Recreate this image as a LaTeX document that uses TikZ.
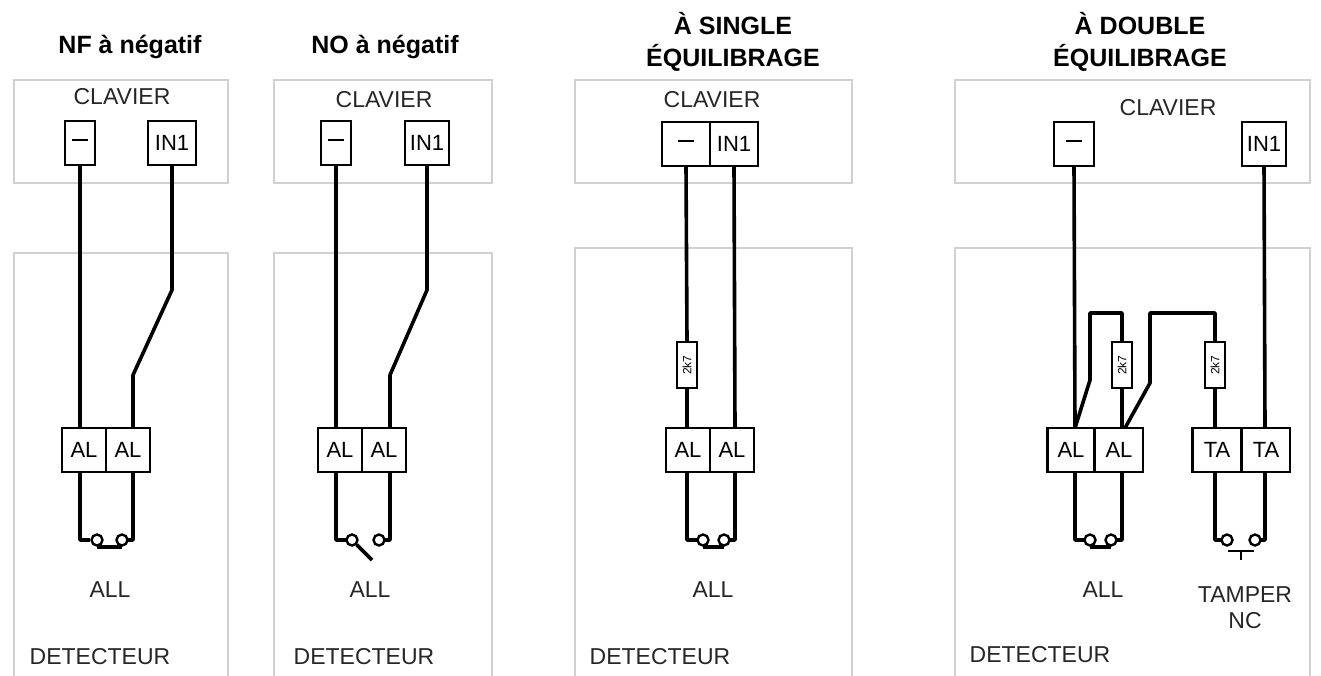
\documentclass[tikz,border=0pt]{standalone}
\usepackage{fontspec}
\setmainfont{Liberation Sans}
\tikzset{
  frame/.style={draw=black!18, line width=2},
  term/.style={draw=black, line width=2.4, minimum width=44, minimum height=44, inner sep=0, font=\fontsize{22}{22}\selectfont},
  res/.style={draw=black, fill=white, line width=2, minimum width=46, minimum height=20, inner sep=0, rotate=90, font=\fontsize{12}{12}\selectfont},
  wire/.style={line width=3.6, line join=round},
  lbl/.style={font=\fontsize{23}{26}\selectfont, text=black!85},
  title/.style={font=\bfseries\fontsize{25}{32}\selectfont, align=center},
  pin/.style={draw=black, fill=white, line width=2.4, circle, minimum size=11, inner sep=0}
}
\newcommand{\minusbar}{\rule[0.3em]{0.75em}{2.4pt}}
\begin{document}
\begin{tikzpicture}[x=1pt, y=-1pt]
  \useasboundingbox (0,0) rectangle (1321,675);
  % frames
  \draw [frame] (14,80) rectangle (228,183);
  \draw [frame] (14,253) rectangle (228,680);
  \draw [frame] (274,80) rectangle (492,183);
  \draw [frame] (274,253) rectangle (492,680);
  \draw [frame] (575,80) rectangle (852,183);
  \draw [frame] (575,248) rectangle (852,680);
  \draw [frame] (955,80) rectangle (1310,183);
  \draw [frame] (955,248) rectangle (1310,680);
  % titles and labels
  \node [title] (t1) at (130,47) {NF à négatif};
  \node [title] (t2) at (385,47) {NO à négatif};
  \node [title] (t3) at (733,42) {À SINGLE\\ÉQUILIBRAGE};
  \node [title] (t4) at (1140,42) {À DOUBLE\\ÉQUILIBRAGE};
  \node [lbl] (c1) at (122,97) {CLAVIER};
  \node [lbl] (c2) at (384,100) {CLAVIER};
  \node [lbl] (c3) at (712,100) {CLAVIER};
  \node [lbl] (c4) at (1168,108) {CLAVIER};
  \node [lbl] (d1) at (100,657) {DETECTEUR};
  \node [lbl] (d2) at (364,657) {DETECTEUR};
  \node [lbl] (d3) at (660,657) {DETECTEUR};
  \node [lbl] (d4) at (1040,655) {DETECTEUR};
  \node [lbl] (a1) at (110,590) {ALL};
  \node [lbl] (a2) at (370,590) {ALL};
  \node [lbl] (a3) at (713,590) {ALL};
  \node [lbl] (a4) at (1103,590) {ALL};
  \node [lbl, align=center] (tp) at (1245,608) {TAMPER\\NC};

  % panel 1
  \node [term, minimum width=30] (m1) at (80,143) {\minusbar};
  \node [term, minimum width=48] (i1) at (172,143) {IN1};
  \node [term] (l1a) at (84,450) {AL};
  \node [term] (l1b) at (128,450) {AL};
  \draw [wire] (m1.south) -- (80,428);
  \draw [wire] (i1.south) -- (172,290) -- (133,375) -- (133,428);
  \draw [wire] (80,472) -- (80,540) -- (90,540);
  \draw [wire] (133,472) -- (133,540) -- (127,540);
  \node [pin] (p1a) at (97,540) {};
  \node [pin] (p1b) at (122,540) {};
  \draw [wire] (p1a.south) -- (p1b.south);

  % panel 2
  \node [term, minimum width=30] (m2) at (336,143) {\minusbar};
  \node [term, minimum width=44] (i2) at (427,143) {IN1};
  \node [term] (l2a) at (340,450) {AL};
  \node [term] (l2b) at (384,450) {AL};
  \draw [wire] (m2.south) -- (336,428);
  \draw [wire] (i2.south) -- (427,290) -- (390,375) -- (390,428);
  \draw [wire] (336,472) -- (336,540) -- (346,540);
  \draw [wire] (390,472) -- (390,540) -- (384,540);
  \node [pin] (p2a) at (352,540) {};
  \node [pin] (p2b) at (379,540) {};
  \coordinate (lev2) at (372,560);
  \draw [wire] (p2a.south east) -- (lev2);

  % panel 3
  \node [term, minimum width=48] (m3) at (686,144) {\minusbar};
  \node [term, minimum width=48] (i3) at (734,144) {IN1};
  \node [term] (l3a) at (688,450) {AL};
  \node [term] (l3b) at (732,450) {AL};
  \node [res] (r3) at (687,365) {2k7};
  \draw [wire] (m3.south) -- (r3.east);
  \draw [wire] (r3.west) -- (687,428);
  \draw [wire] (i3.south) -- (735,428);
  \draw [wire] (687,472) -- (687,540) -- (697,540);
  \draw [wire] (735,472) -- (735,540) -- (729,540);
  \node [pin] (p3a) at (703,540) {};
  \node [pin] (p3b) at (724,540) {};
  \draw [wire] (p3a.south) -- (p3b.south);

  % panel 4
  \node [term, minimum width=40] (m4) at (1074,144) {\minusbar};
  \node [term, minimum width=44] (i4) at (1264,144) {IN1};
  \node [term, minimum width=47] (l4a) at (1071,450) {AL};
  \node [term, minimum width=48] (l4b) at (1119,450) {AL};
  \node [term, minimum width=49] (t4a) at (1217,450) {TA};
  \node [term, minimum width=48] (t4b) at (1266,450) {TA};
  \node [res] (r4a) at (1122,365) {2k7};
  \node [res] (r4b) at (1215,365) {2k7};
  \draw [wire] (m4.south) -- (1075,428);
  \draw [wire] (1075,428) -- (1090,380) -- (1090,313) -- (1122,313) -- (r4a.east);
  \draw [wire] (r4a.west) -- (1122,428);
  \draw [wire] (1125,428) -- (1150,383) -- (1150,313) -- (1215,313) -- (r4b.east);
  \draw [wire] (r4b.west) -- (1215,428);
  \draw [wire] (i4.south) -- (1265,428);
  \draw [wire] (1075,472) -- (1075,540) -- (1085,540);
  \draw [wire] (1122,472) -- (1122,540) -- (1116,540);
  \node [pin] (p4a) at (1090,540) {};
  \node [pin] (p4b) at (1111,540) {};
  \draw [wire] (p4a.south) -- (p4b.south);
  \draw [wire] (1215,472) -- (1215,540) -- (1222,540);
  \draw [wire] (1265,472) -- (1265,540) -- (1260,540);
  \node [pin] (p4c) at (1227,540) {};
  \node [pin] (p4d) at (1255,540) {};
  \coordinate (tb) at (1241,550);
  \draw [line width=2.6] (1228,551) -- (1254,551);
  \draw [line width=2.6] (tb) -- (1241,560);
\end{tikzpicture}
\end{document}
